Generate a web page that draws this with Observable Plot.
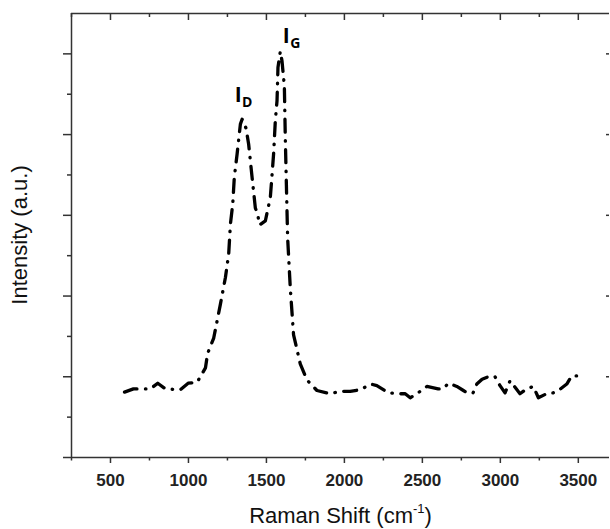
<!DOCTYPE html>
<html>
<head>
<meta charset="utf-8">
<script src="https://cdn.jsdelivr.net/npm/d3@7"></script>
<script src="https://cdn.jsdelivr.net/npm/@observablehq/plot@0.6"></script>
<style>
  html, body { margin: 0; padding: 0; background: #fff; }
  #chart { width: 610px; height: 529px; }
</style>
</head>
<body>
<div id="chart"></div>
<script>
// Raman shift (cm^-1)
const ramanShift = [590, 647, 756, 803, 852, 948, 998, 1055, 1109, 1123, 1162, 1205, 1237, 1258, 1269, 1284, 1294, 1312, 1333, 1344,
  1369, 1386, 1408, 1429, 1444, 1456, 1493, 1525, 1546, 1557, 1568, 1574, 1589, 1600, 1615, 1621, 1628, 1636, 1653, 1674,
  1717, 1760, 1824, 1909, 1973, 2037, 2102, 2170, 2208, 2283, 2358, 2390, 2422, 2465, 2529, 2601, 2633, 2667, 2721, 2763,
  2787, 2825, 2849, 2883, 2934, 2966, 2998, 3030, 3062, 3126, 3169, 3212, 3244, 3307, 3338, 3372, 3426, 3458, 3511];
// Intensity (a.u.), in units of the major y ticks
const intensity = [0.81, 0.85, 0.85, 0.92, 0.85, 0.84, 0.92, 0.93, 1.11, 1.29, 1.48, 1.90, 2.23, 2.52, 2.89, 3.14, 3.47, 3.76, 4.13, 4.19,
  4.08, 3.88, 3.47, 3.09, 3.01, 2.88, 2.93, 3.22, 3.76, 4.17, 4.42, 4.83, 5.03, 4.91, 4.60, 3.96, 3.38, 2.72, 2.10, 1.52,
  1.16, 0.96, 0.83, 0.79, 0.82, 0.82, 0.84, 0.91, 0.89, 0.80, 0.79, 0.79, 0.74, 0.79, 0.88, 0.85, 0.85, 0.92, 0.88, 0.83,
  0.80, 0.80, 0.91, 0.97, 1.01, 1.00, 0.89, 0.80, 0.95, 0.79, 0.85, 0.88, 0.74, 0.80, 0.80, 0.83, 0.91, 1.01, 1.01];

const xMajorTicks = [500, 1000, 1500, 2000, 2500, 3000, 3500];
const xMinorTicks = [250, 750, 1250, 1750, 2250, 2750, 3250];
const yMajorTicks = [0, 1, 2, 3, 4, 5];
const yMinorTicks = [0.5, 1.5, 2.5, 3.5, 4.5];
const peakNames = ["D", "G"];
const xTitle = "Raman Shift (cm-1)";
const yTitle = "Intensity (a.u.)";
const xDomain = [250, 3700];
const yDomain = [0, 5.5];

const data = ramanShift.map((x, i) => ({x, y: intensity[i]}));

// peaks found from the data
function peakIn(lo, hi) {
  return data.filter(d => d.x >= lo && d.x <= hi).reduce((a, b) => (b.y > a.y ? b : a));
}
const peaks = [peakIn(1200, 1450), peakIn(1450, 1700)].map((p, i) => ({...p, name: peakNames[i]}));

const W = 610, H = 529, mL = 71, mR = 1, mT = 13, mB = 72;
const plotW = W - mL - mR, plotH = H - mT - mB;
const axisColor = "#333";
const sans = "'Liberation Sans', Arial, sans-serif";

const chart = Plot.plot({
  width: W,
  height: H,
  marginLeft: mL,
  marginRight: mR,
  marginTop: mT,
  marginBottom: mB,
  style: {background: "#fff", overflow: "visible"},
  x: {domain: xDomain, axis: null},
  y: {domain: yDomain, axis: null},
  marks: [
    // frame
    Plot.ruleY([yDomain[0], yDomain[1]], {stroke: axisColor, strokeWidth: 1.5}),
    Plot.ruleX([xDomain[0]], {stroke: axisColor, strokeWidth: 1.5}),
    // bottom ticks (outward)
    Plot.tickX(xMajorTicks, {x: d => d, insetTop: plotH, insetBottom: -6, stroke: axisColor, strokeWidth: 1.5}),
    Plot.tickX(xMinorTicks, {x: d => d, insetTop: plotH, insetBottom: -3.5, stroke: axisColor, strokeWidth: 1.5}),
    // top ticks (inward)
    Plot.tickX(xMajorTicks, {x: d => d, insetTop: 0, insetBottom: plotH - 7, stroke: axisColor, strokeWidth: 1.5}),
    Plot.tickX(xMinorTicks, {x: d => d, insetTop: 0, insetBottom: plotH - 4, stroke: axisColor, strokeWidth: 1.5}),
    // left ticks (outward)
    Plot.tickY(yMajorTicks, {y: d => d, insetLeft: -8, insetRight: plotW, stroke: axisColor, strokeWidth: 1.5}),
    Plot.tickY(yMinorTicks, {y: d => d, insetLeft: -4, insetRight: plotW, stroke: axisColor, strokeWidth: 1.5}),
    // right ticks (inward)
    Plot.tickY(yMajorTicks.slice(1), {y: d => d, insetLeft: plotW - 3, insetRight: 0, stroke: axisColor, strokeWidth: 1.5}),
    // x tick labels
    Plot.text(xMajorTicks, {x: d => d, frameAnchor: "bottom", text: d => String(d), dy: 23, lineAnchor: "middle",
      fontSize: 17, fontWeight: "bold", fontFamily: sans, fill: "#222"}),
    // x axis title
    Plot.text([xTitle], {frameAnchor: "bottom", dy: 58, lineAnchor: "middle",
      fontSize: 22, fontFamily: sans, fill: "#111"}),
    // spectrum
    Plot.line(data, {x: "x", y: "y", stroke: "#000", strokeWidth: 3.3,
      strokeDasharray: "13,8.5,0.5,8.5", strokeLinecap: "round", strokeLinejoin: "round"}),
    // peak labels
    Plot.text([peaks[0]], {x: "x", y: "y", text: () => "I", dx: -4, dy: -24, textAnchor: "middle", lineAnchor: "middle",
      fontSize: 21, fontWeight: "bold", fontFamily: "'Open Sans', sans-serif", fill: "#000"}),
    Plot.text([peaks[0]], {x: "x", y: "y", text: "name", dx: 0, dy: -17, textAnchor: "start", lineAnchor: "middle",
      fontSize: 14, fontWeight: "bold", fontFamily: "'Open Sans', sans-serif", fill: "#000"}),
    Plot.text([peaks[1]], {x: "x", y: "y", text: () => "I", dx: 6, dy: -15, textAnchor: "middle", lineAnchor: "middle",
      fontSize: 21, fontWeight: "bold", fontFamily: "'Open Sans', sans-serif", fill: "#000"}),
    Plot.text([peaks[1]], {x: "x", y: "y", text: "name", dx: 10, dy: -8, textAnchor: "start", lineAnchor: "middle",
      fontSize: 14, fontWeight: "bold", fontFamily: "'Open Sans', sans-serif", fill: "#000"})
  ]
});

const ns = "http://www.w3.org/2000/svg";
// superscript in the x-axis title
const xt = [...chart.querySelectorAll("text")].find(e => e.textContent === xTitle);
if (xt) {
  xt.textContent = "";
  const a = document.createElementNS(ns, "tspan"); a.textContent = "Raman Shift (cm";
  const b = document.createElementNS(ns, "tspan"); b.textContent = "-1"; b.setAttribute("dy", "-10"); b.setAttribute("font-size", "13");
  const c = document.createElementNS(ns, "tspan"); c.textContent = ")"; c.setAttribute("dy", "10");
  xt.append(a, b, c);
}
// rotated y-axis title, centred on the plot area
d3.select(chart).append("text")
  .attr("transform", `translate(26.5,${mT + plotH / 2}) rotate(-90)`)
  .attr("text-anchor", "middle")
  .attr("font-family", sans)
  .attr("font-size", 22)
  .attr("fill", "#111")
  .text(yTitle);

document.getElementById("chart").append(chart);
</script>
</body>
</html>
